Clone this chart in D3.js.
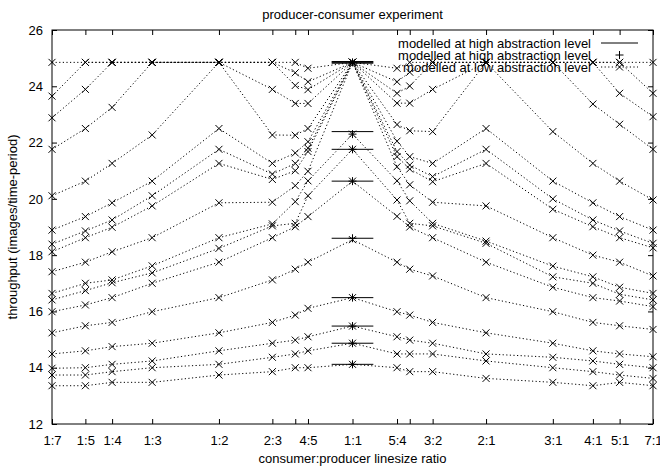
<!DOCTYPE html>
<html>
<head>
<meta charset="utf-8">
<script src="https://cdn.jsdelivr.net/npm/d3@7/dist/d3.min.js"></script>
<style>
	body { margin: 0; background: #fff; }
	text { font-family: "Liberation Sans", Arial, sans-serif; font-size: 13px; fill: #000; }
</style>
</head>
<body>
<div id="chart"></div>
<script>
// ratio = consumer:producer linesize, x position = consumer / (consumer + producer)
const ratioConsumer = [1, 1, 1, 1, 1, 2, 3, 4, 1, 5, 4, 3, 2, 3, 4, 5, 7];
const ratioProducer = [7, 5, 4, 3, 2, 3, 4, 5, 1, 4, 3, 2, 1, 1, 1, 1, 1];
const ratioLabels   = ['1:7', '1:5', '1:4', '1:3', '1:2', '2:3', '', '4:5', '1:1', '5:4', '', '3:2', '2:1', '3:1', '4:1', '5:1', '7:1'];
const yTicks = [12, 14, 16, 18, 20, 22, 24, 26];

// measured throughput (low abstraction level), one array per ratio, one entry per curve
const at_1_7 = [24.85, 23.65, 22.88, 21.76, 20.11, 18.89, 18.39, 18.12, 17.41, 16.64, 16.41, 15.99, 15.24, 14.49, 13.98, 13.74, 13.36];
const at_1_5 = [24.85, 24.85, 23.89, 22.5, 20.63, 19.37, 18.86, 18.62, 17.75, 17.0, 16.74, 16.23, 15.49, 14.6, 14.0, 13.74, 13.36];
const at_1_4 = [24.85, 24.85, 24.85, 23.25, 21.26, 19.86, 19.25, 18.99, 18.12, 17.12, 17.02, 16.49, 15.61, 14.75, 14.12, 13.86, 13.48];
const at_1_3 = [24.85, 24.85, 24.85, 24.85, 22.27, 20.63, 20.11, 19.75, 18.62, 17.62, 17.37, 17.0, 15.99, 14.87, 14.24, 14.0, 13.48];
const at_1_2 = [24.85, 24.85, 24.85, 24.85, 24.85, 22.5, 21.76, 21.26, 19.86, 18.62, 18.24, 17.75, 16.49, 15.24, 14.6, 14.12, 13.74];
const at_2_3 = [24.85, 24.85, 24.85, 23.89, 22.27, 21.26, 20.88, 20.69, 19.88, 19.11, 19.04, 18.62, 17.12, 15.61, 14.87, 14.37, 13.86];
const at_3_4 = [24.85, 24.48, 24.03, 23.39, 22.26, 21.63, 21.26, 21.0, 20.47, 19.9, 19.13, 19.01, 17.5, 15.87, 14.98, 14.49, 14.0];
const at_4_5 = [24.64, 24.16, 23.88, 23.39, 22.5, 22.03, 21.8, 21.68, 20.98, 20.64, 20.11, 19.37, 17.75, 16.11, 15.1, 14.6, 14.0];
const at_1_1 = [24.85, 24.85, 24.85, 24.85, 24.85, 24.85, 24.85, 24.85, 24.85, 22.3, 21.76, 20.63, 18.55, 16.49, 15.48, 14.87, 14.12];
const at_5_4 = [24.64, 24.16, 23.75, 23.4, 22.64, 22.05, 21.68, 21.5, 21.14, 20.64, 19.96, 19.38, 17.75, 15.99, 15.1, 14.49, 14.0];
const at_4_3 = [24.85, 24.5, 24.01, 23.4, 22.42, 21.5, 21.2, 21.06, 20.5, 19.93, 19.13, 19.0, 17.5, 15.87, 14.98, 14.49, 13.86];
const at_3_2 = [24.85, 24.85, 24.85, 23.89, 22.39, 21.26, 20.79, 20.61, 19.88, 19.13, 19.04, 18.62, 17.26, 15.61, 14.87, 14.49, 13.86];
const at_2_1 = [24.85, 24.85, 24.85, 24.85, 24.85, 22.5, 21.76, 21.26, 19.75, 18.5, 18.42, 17.75, 16.49, 15.24, 14.49, 14.24, 13.62];
const at_3_1 = [24.85, 24.85, 24.85, 24.85, 22.39, 20.63, 20.0, 19.63, 18.62, 17.61, 17.23, 16.86, 15.99, 14.87, 14.37, 14.0, 13.48];
const at_4_1 = [24.85, 24.85, 24.85, 23.37, 21.26, 19.86, 19.25, 19.01, 18.0, 17.23, 17.0, 16.49, 15.61, 14.6, 14.24, 13.86, 13.36];
const at_5_1 = [24.85, 24.85, 23.75, 22.65, 20.63, 19.37, 18.86, 18.62, 17.75, 16.86, 16.61, 16.37, 15.49, 14.49, 14.12, 13.74, 13.48];
const at_7_1 = [24.85, 23.75, 22.92, 21.76, 19.96, 18.89, 18.42, 18.26, 17.26, 16.64, 16.41, 16.17, 15.36, 14.39, 14.0, 13.62, 13.36];

// modelled at high abstraction level, only at 1:1
const highLineValues  = [24.82, 24.85, 24.88, 22.39, 21.76, 20.63, 18.6, 16.49, 15.48, 14.87, 14.12];
const highPointValues = [24.85, 22.3, 21.76, 20.63, 18.6, 16.49, 15.48, 14.87, 14.12];

const legendLabels = ['modelled at high abstraction level', 'modelled at high abstraction level', 'modelled at low abstraction level'];

const columns = [at_1_7, at_1_5, at_1_4, at_1_3, at_1_2, at_2_3, at_3_4, at_4_5, at_1_1,
	at_5_4, at_4_3, at_3_2, at_2_1, at_3_1, at_4_1, at_5_1, at_7_1];
const xVals = ratioConsumer.map((c, i) => c / (c + ratioProducer[i]));
const series = at_1_7.map((_, s) => columns.map((col, i) => ({ x: xVals[i], y: col[s] })));

const width = 660, height = 468;
const margin = { top: 30, right: 7, bottom: 44, left: 52 };

const svg = d3.select('#chart').append('svg')
	.attr('width', width)
	.attr('height', height);

const x = d3.scaleLinear()
	.domain([0.125, 0.875])
	.range([margin.left, width - margin.right]);

const y = d3.scaleLinear()
	.domain([12, 26])
	.range([height - margin.bottom, margin.top]);

// ###
// AXES (ticks inward, mirrored on top and right)
// ###

const axisStyle = g => {
	g.select('.domain').remove();
	g.selectAll('.tick line').attr('stroke', '#000');
};

svg.append('g')
	.attr('transform', `translate(0, ${height - margin.bottom})`)
	.call(d3.axisBottom(x).tickValues(xVals).tickSize(-5).tickPadding(12)
		.tickFormat((d, i) => ratioLabels[i]))
	.call(axisStyle)
	.call(g => g.selectAll('text').attr('font-size', 13).attr('font-family', null));

svg.append('g')
	.attr('transform', `translate(0, ${margin.top})`)
	.call(d3.axisTop(x).tickValues(xVals).tickSize(-5).tickFormat(''))
	.call(axisStyle);

svg.append('g')
	.attr('transform', `translate(${margin.left}, 0)`)
	.call(d3.axisLeft(y).tickValues(yTicks).tickSize(-5).tickPadding(9))
	.call(axisStyle)
	.call(g => g.selectAll('text').attr('font-size', 13).attr('font-family', null));

svg.append('g')
	.attr('transform', `translate(${width - margin.right}, 0)`)
	.call(d3.axisRight(y).tickValues(yTicks).tickSize(-5).tickFormat(''))
	.call(axisStyle);

svg.append('rect')
	.attr('x', margin.left)
	.attr('y', margin.top)
	.attr('width', width - margin.left - margin.right)
	.attr('height', height - margin.top - margin.bottom)
	.attr('fill', 'none')
	.attr('stroke', '#000');

// titles
svg.append('text')
	.attr('x', (margin.left + width - margin.right) / 2)
	.attr('y', 14)
	.attr('dy', '0.35em')
	.attr('text-anchor', 'middle')
	.text('producer-consumer experiment');

svg.append('text')
	.attr('x', (margin.left + width - margin.right) / 2)
	.attr('y', 458)
	.attr('dy', '0.35em')
	.attr('text-anchor', 'middle')
	.text('consumer:producer linesize ratio');

svg.append('text')
	.attr('transform', `translate(12, ${(margin.top + height - margin.bottom) / 2}) rotate(-90)`)
	.attr('dy', '0.35em')
	.attr('text-anchor', 'middle')
	.text('throughput (images/time-period)');

// ###
// CURVES
// ###

const cross = (g, cx, cy) => {
	g.append('path')
		.attr('d', `M${cx - 3.5},${cy - 3.5}L${cx + 3.5},${cy + 3.5}M${cx - 3.5},${cy + 3.5}L${cx + 3.5},${cy - 3.5}`)
		.attr('stroke', '#000')
		.attr('fill', 'none');
};
const plus = (g, cx, cy) => {
	g.append('path')
		.attr('d', `M${cx - 4},${cy}L${cx + 4},${cy}M${cx},${cy - 4}L${cx},${cy + 4}`)
		.attr('stroke', '#000')
		.attr('fill', 'none');
};

const line = d3.line()
	.x(d => x(d.x))
	.y(d => y(d.y));

const curves = svg.append('g').classed('curves', true);

curves.selectAll('path.line')
	.data(series)
	.join('path')
	.attr('class', 'line')
	.attr('d', line)
	.attr('fill', 'none')
	.attr('stroke', '#000')
	.attr('stroke-width', 1)
	.attr('stroke-dasharray', '1.2,2.4');

series.forEach(s => s.forEach(d => cross(curves, x(d.x), y(d.y))));

// high abstraction model at 1:1
const oneToOne = xVals[8];
const bars = svg.append('g');
highLineValues.forEach(v => {
	bars.append('line')
		.attr('x1', x(oneToOne - 0.026))
		.attr('x2', x(oneToOne + 0.026))
		.attr('y1', y(v))
		.attr('y2', y(v))
		.attr('stroke', '#000')
		.attr('stroke-width', 1);
});
highPointValues.forEach(v => plus(bars, x(oneToOne), y(v)));

// ###
// LEGEND
// ###

const legend = svg.append('g');
legendLabels.forEach((label, i) => {
	const ly = 43 + i * 12;
	legend.append('text')
		.attr('x', 591)
		.attr('y', ly)
		.attr('dy', '0.35em')
		.attr('text-anchor', 'end')
		.text(label);
	if (i === 0) {
		legend.append('line').attr('x1', 601).attr('x2', 638).attr('y1', ly).attr('y2', ly).attr('stroke', '#000');
	} else if (i === 1) {
		plus(legend, 619.5, ly);
	} else {
		legend.append('line').attr('x1', 601).attr('x2', 638).attr('y1', ly).attr('y2', ly)
			.attr('stroke', '#000').attr('stroke-dasharray', '1.2,2.4');
		cross(legend, 619.5, ly);
	}
});
</script>
</body>
</html>
